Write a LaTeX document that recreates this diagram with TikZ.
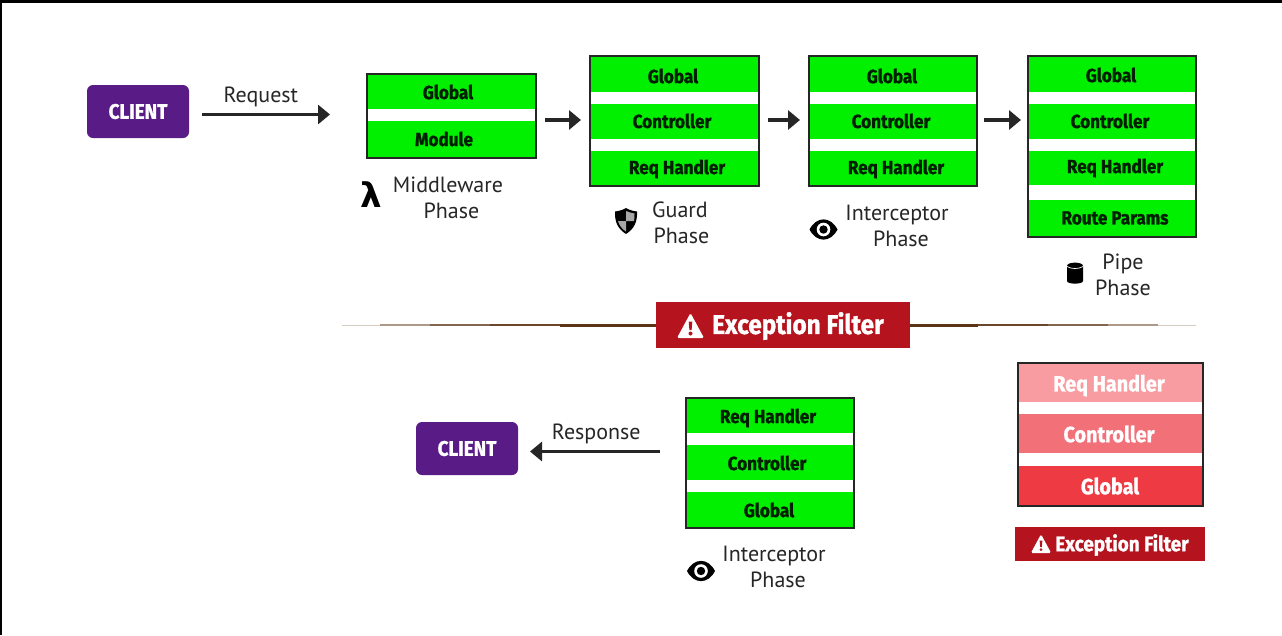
\documentclass[tikz,border=0pt]{standalone}
\usepackage{fontspec}
\setmainfont{Fira Sans}[BoldFeatures={FakeBold=1.2,FakeStretch=0.9}]
\newfontfamily\hand{PT Sans}
\newfontfamily\lamfont{DejaVu Sans Bold}
\usetikzlibrary{arrows.meta}
\definecolor{grn}{HTML}{00F000}
\definecolor{pur}{HTML}{591C87}
\definecolor{crim}{HTML}{B5141E}
\definecolor{rA}{HTML}{F89CA2}
\definecolor{rB}{HTML}{F27078}
\definecolor{rC}{HTML}{EE3A42}
\definecolor{ink}{HTML}{262626}
\definecolor{brn}{HTML}{5A3414}
\tikzset{
 x=1pt,y=-1pt,
 band/.style={anchor=north west,inner sep=0pt,outer sep=0pt},
 bandtext/.style={font=\bfseries\fontsize{19}{19}\selectfont,text=black!88!green,inner sep=0pt},
 redtext/.style={font=\bfseries\fontsize{22}{22}\selectfont,text=white,inner sep=0pt},
 frame/.style={draw=black!85,line width=1.2pt,fill=none,inner sep=0pt,outer sep=0pt,anchor=north west},
 client/.style={fill=pur,rounded corners=6pt,text=white,font=\bfseries\fontsize{21}{21}\selectfont,minimum width=102pt,minimum height=53pt,inner sep=0pt,outer sep=0pt},
 flow/.style={draw=ink,line width=3.4pt,-{Triangle[length=12pt,width=19pt]}},
 lab/.style={font=\hand\fontsize{22}{25.5}\selectfont,text=ink,align=center,inner sep=0pt},
 banner/.style={fill=crim,text=white,inner sep=0pt,outer sep=0pt,font=\bfseries},
}
\newcommand{\band}[6]{% name,x,y,w,h,fill
 \node[band,fill=#6,minimum width=#4pt,minimum height=#5pt] (#1) at (#2,#3) {};}
\newcommand{\eyeicon}[2]{%
 \begin{scope}[shift={(#1,#2)}]
 \fill[black] (-14,0) .. controls (-7,-13.5) and (7,-13.5) .. (14,0) .. controls (7,13.5) and (-7,13.5) .. (-14,0) -- cycle;
 \fill[white] (0,0) circle (6.8);
 \fill[black] (0,0) circle (4.2);
 \end{scope}}
\newcommand{\warnicon}[3]{% x,y,scale: triangle centred
 \begin{scope}[shift={(#1,#2)},scale=#3]
 \fill[white,rounded corners=1.5pt] (0,-13) -- (13.5,12) -- (-13.5,12) -- cycle;
 \fill[crim] (-1.8,-4.5) -- (1.8,-4.5) -- (1.1,4) -- (-1.1,4) -- cycle;
 \fill[crim] (0,7.5) circle (2);
 \end{scope}}
\begin{document}
\begin{tikzpicture}
\useasboundingbox (0,0) rectangle (1282,635);
\fill[white] (0,0) rectangle (1282,635);
\fill[black] (0,0) rectangle (1282,3);
\fill[black] (0,0) rectangle (2,635);

% top client
\node[client] (c1) at (138,111.5) {CLIENT};
\coordinate (reqend) at (330,114.5);
\coordinate (reqstart) at (202,114.5);
\draw[flow] (reqstart) -- node[above=6pt,lab,pos=.46] (reqlab) {Request} (reqend);

% middleware
\band{m1}{367}{74}{169}{35}{grn}
\band{m2}{367}{121}{169}{37}{grn}
\node[bandtext] (mt1) at (448,92) {Global};
\node[bandtext] (mt2) at (444,139) {Module};
\node[frame,minimum width=169pt,minimum height=84pt] (mw) at (367,74) {};
\node[lab] (mwlab) at (448,198) {Middleware\\[0pt]\hspace{7pt}Phase};
\node[font=\lamfont\fontsize{34}{34}\selectfont,inner sep=0pt] (lam) at (371.5,195) {λ};

% guard
\band{g1}{590}{56}{169}{36}{grn}
\band{g2}{590}{104}{169}{35}{grn}
\band{g3}{590}{151}{169}{35}{grn}
\node[bandtext] (gt1) at (673,76) {Global};
\node[bandtext] (gt2) at (672,121) {Controller};
\node[bandtext] (gt3) at (677,169) {Req Handler};
\node[frame,minimum width=169pt,minimum height=130pt] (gd) at (590,56) {};
\node[lab] (gdlab) at (680,223) {Guard\\\hspace{3pt}Phase};
\begin{scope}[shift={(626,221)}]
 \fill[black] (0,-13) .. controls (4,-10.5) and (8,-10) .. (11,-9.5) .. controls (11.5,1) and (8,8) .. (0,13) .. controls (-8,8) and (-11.5,1) .. (-11,-9.5) .. controls (-8,-10) and (-4,-10.5) .. (0,-13) -- cycle;
 \fill[black!35] (0,-10) .. controls (3,-8.5) and (6,-8) .. (8.5,-7.5) .. controls (8.6,-4) and (8.4,-2) .. (8,0) -- (0,0) -- cycle;
 \fill[black!35] (0,0) -- (-8,0) .. controls (-7,4) and (-4,8) .. (0,10.5) -- cycle;
\end{scope}

% interceptor
\band{i1}{809}{56}{168}{36}{grn}
\band{i2}{809}{104}{168}{35}{grn}
\band{i3}{809}{151}{168}{35}{grn}
\node[bandtext] (it1) at (892,76) {Global};
\node[bandtext] (it2) at (891,121) {Controller};
\node[bandtext] (it3) at (896,169) {Req Handler};
\node[frame,minimum width=168pt,minimum height=130pt] (ic) at (809,56) {};
\node[lab] (iclab) at (897,226) {Interceptor\\\hspace{8pt}Phase};
\eyeicon{823.5}{229.5}

% pipe
\band{p1}{1028}{56}{168}{36}{grn}
\band{p2}{1028}{104}{168}{35}{grn}
\band{p3}{1028}{151}{168}{34}{grn}
\band{p4}{1028}{200}{168}{37}{grn}
\node[bandtext] (pt1) at (1111,75) {Global};
\node[bandtext] (pt2) at (1110,121) {Controller};
\node[bandtext] (pt3) at (1115,168) {Req Handler};
\node[bandtext] (pt4) at (1115,218) {Route Params};
\node[frame,minimum width=168pt,minimum height=181pt] (pp) at (1028,56) {};
\node[lab] (pplab) at (1123,275) {Pipe\\Phase};
\begin{scope}[shift={(1075,273)}]
 \fill[black] (-8,-7) -- (-8,8) .. controls (-8,11.5) and (8,11.5) .. (8,8) -- (8,-7) .. controls (8,-11.5) and (-8,-11.5) .. (-8,-7) -- cycle;
 \draw[white,line width=.7pt] (-8,-6.5) .. controls (-4,-3.8) and (4,-3.8) .. (8,-6.5);
\end{scope}

% flow arrows
\draw[flow,shorten <=9pt,shorten >=9pt] (mw.east |- g2.west) ++(0,-1.5) coordinate (a1) -- (a1 -| gd.west);
\draw[flow,shorten <=9pt,shorten >=9pt] (gd.east |- g2.west) ++(0,-1.5) coordinate (a2) -- (a2 -| ic.west);
\draw[flow,shorten <=7pt,shorten >=7pt] (ic.east |- g2.west) ++(0,-1.5) coordinate (a3) -- (a3 -| pp.west);

% exception banner: rule tapering away from the banner, in stepped strokes
\coordinate (ll) at (342,325);
\coordinate (rr) at (1196,325);
\node[banner,minimum width=254pt,minimum height=46pt] (ex) at (783,325) {};
\foreach \xa/\xb/\wd/\op in {342/380/1/0.25, 380/430/1.2/0.5, 430/490/1.6/0.75, 490/560/2/0.9, 560/656/3/1}{
 \draw[brn,line width=\wd pt,opacity=\op] (\xa,325) -- (\xb,325);
}
\foreach \xa/\xb/\wd/\op in {1196/1158/1/0.25, 1158/1108/1.2/0.5, 1108/1048/1.6/0.75, 1048/978/2/0.9, 978/910/3/1}{
 \draw[brn,line width=\wd pt,opacity=\op] (\xa,325) -- (\xb,325);
}
\node[text=white,font=\bfseries\fontsize{27}{27}\selectfont,inner sep=0pt] (ext) at (798,326) {Exception Filter};
\warnicon{690.5}{326}{1}

% bottom interceptor
\band{b1}{686}{398}{168}{35}{grn}
\band{b2}{686}{445}{168}{35}{grn}
\band{b3}{686}{492}{168}{36}{grn}
\node[bandtext] (bt1) at (768,418) {Req Handler};
\node[bandtext] (bt2) at (767,463) {Controller};
\node[bandtext] (bt3) at (769,510) {Global};
\node[frame,minimum width=168pt,minimum height=130pt] (bi) at (686,398) {};
\node[lab] (bilab) at (774,567) {Interceptor\\\hspace{8pt}Phase};
\eyeicon{701}{571}

% bottom client
\node[client] (c2) at (467,448.5) {CLIENT};
\coordinate (resstart) at (660,451.5);
\coordinate (resend) at (530,451.5);
\draw[flow] (resstart) -- node[above=6pt,lab,pos=.49] (reslab) {Response} (resend);

% red stack
\band{r1}{1018}{363}{185}{39}{rA}
\band{r2}{1018}{414}{185}{39}{rB}
\band{r3}{1018}{466}{185}{40}{rC}
\node[redtext] (rt1) at (1109,385.5) {Req Handler};
\node[redtext] (rt2) at (1109,434) {Controller};
\node[redtext] (rt3) at (1110,486) {Global};
\node[frame,minimum width=185pt,minimum height=143pt] (rs) at (1018,363) {};
\node[banner,minimum width=190pt,minimum height=34pt] (ex2) at (1110,544) {};
\node[text=white,font=\bfseries\fontsize{21}{21}\selectfont,inner sep=0pt] (ex2t) at (1122,545) {Exception Filter};
\warnicon{1041}{544}{.75}
\end{tikzpicture}
\end{document}
